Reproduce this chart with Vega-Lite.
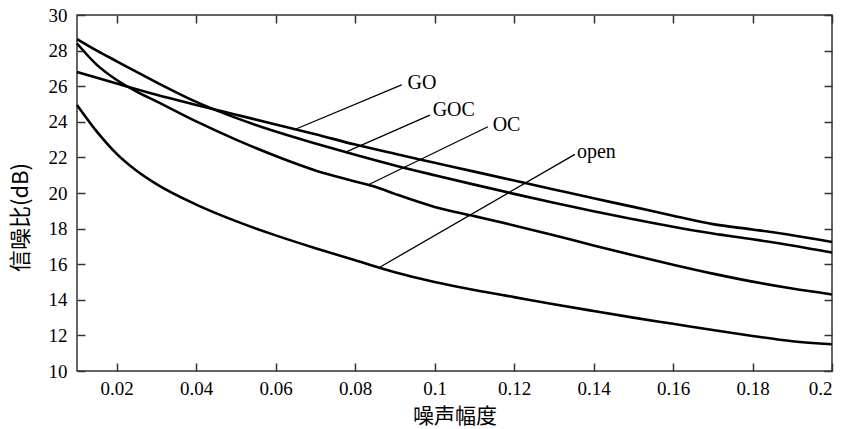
{
  "$schema": "https://vega.github.io/schema/vega-lite/v6.json",
  "width": 755,
  "height": 356,
  "autosize": "none",
  "padding": {"left": 77, "top": 15, "right": 10, "bottom": 58},
  "background": "white",
  "config": {
    "view": {"stroke": "#333", "strokeWidth": 1.5},
    "axis": {"domain": false, "grid": false, "tickColor": "#333", "tickWidth": 1.5, "labelColor": "black", "labelFont": "Liberation Serif", "labelFontSize": 19, "titleColor": "black", "titleFont": "Noto Sans CJK SC", "titleFontSize": 20, "titleFontWeight": "normal"}
  },
  "datasets": {
    "curves": [
      {"series": "GO", "x": 0.01, "y": 26.8}, {"series": "GO", "x": 0.02, "y": 26.15}, {"series": "GO", "x": 0.03, "y": 25.52}, {"series": "GO", "x": 0.04, "y": 24.95}, {"series": "GO", "x": 0.05, "y": 24.4}, {"series": "GO", "x": 0.06, "y": 23.85}, {"series": "GO", "x": 0.07, "y": 23.3}, {"series": "GO", "x": 0.08, "y": 22.72}, {"series": "GO", "x": 0.09, "y": 22.2}, {"series": "GO", "x": 0.1, "y": 21.7}, {"series": "GO", "x": 0.11, "y": 21.2}, {"series": "GO", "x": 0.12, "y": 20.7}, {"series": "GO", "x": 0.13, "y": 20.2}, {"series": "GO", "x": 0.14, "y": 19.7}, {"series": "GO", "x": 0.15, "y": 19.22}, {"series": "GO", "x": 0.16, "y": 18.72}, {"series": "GO", "x": 0.17, "y": 18.25}, {"series": "GO", "x": 0.18, "y": 17.95}, {"series": "GO", "x": 0.19, "y": 17.63}, {"series": "GO", "x": 0.2, "y": 17.25},
      {"series": "GOC", "x": 0.01, "y": 28.65}, {"series": "GOC", "x": 0.015, "y": 28.0}, {"series": "GOC", "x": 0.02, "y": 27.4}, {"series": "GOC", "x": 0.025, "y": 26.8}, {"series": "GOC", "x": 0.03, "y": 26.22}, {"series": "GOC", "x": 0.04, "y": 25.12}, {"series": "GOC", "x": 0.05, "y": 24.22}, {"series": "GOC", "x": 0.06, "y": 23.45}, {"series": "GOC", "x": 0.07, "y": 22.78}, {"series": "GOC", "x": 0.08, "y": 22.15}, {"series": "GOC", "x": 0.09, "y": 21.55}, {"series": "GOC", "x": 0.1, "y": 21.0}, {"series": "GOC", "x": 0.11, "y": 20.47}, {"series": "GOC", "x": 0.12, "y": 19.95}, {"series": "GOC", "x": 0.13, "y": 19.45}, {"series": "GOC", "x": 0.14, "y": 18.98}, {"series": "GOC", "x": 0.15, "y": 18.53}, {"series": "GOC", "x": 0.16, "y": 18.1}, {"series": "GOC", "x": 0.17, "y": 17.72}, {"series": "GOC", "x": 0.18, "y": 17.4}, {"series": "GOC", "x": 0.19, "y": 17.05}, {"series": "GOC", "x": 0.2, "y": 16.65},
      {"series": "OC", "x": 0.01, "y": 28.4}, {"series": "OC", "x": 0.015, "y": 27.2}, {"series": "OC", "x": 0.02, "y": 26.35}, {"series": "OC", "x": 0.025, "y": 25.7}, {"series": "OC", "x": 0.03, "y": 25.15}, {"series": "OC", "x": 0.04, "y": 24.02}, {"series": "OC", "x": 0.05, "y": 23.0}, {"series": "OC", "x": 0.06, "y": 22.08}, {"series": "OC", "x": 0.07, "y": 21.27}, {"series": "OC", "x": 0.08, "y": 20.65}, {"series": "OC", "x": 0.085, "y": 20.35}, {"series": "OC", "x": 0.09, "y": 19.95}, {"series": "OC", "x": 0.1, "y": 19.22}, {"series": "OC", "x": 0.11, "y": 18.7}, {"series": "OC", "x": 0.12, "y": 18.18}, {"series": "OC", "x": 0.13, "y": 17.63}, {"series": "OC", "x": 0.14, "y": 17.05}, {"series": "OC", "x": 0.15, "y": 16.5}, {"series": "OC", "x": 0.16, "y": 15.97}, {"series": "OC", "x": 0.17, "y": 15.47}, {"series": "OC", "x": 0.18, "y": 15.02}, {"series": "OC", "x": 0.19, "y": 14.63}, {"series": "OC", "x": 0.2, "y": 14.3},
      {"series": "open", "x": 0.01, "y": 24.95}, {"series": "open", "x": 0.015, "y": 23.45}, {"series": "open", "x": 0.02, "y": 22.2}, {"series": "open", "x": 0.025, "y": 21.25}, {"series": "open", "x": 0.03, "y": 20.5}, {"series": "open", "x": 0.04, "y": 19.35}, {"series": "open", "x": 0.05, "y": 18.42}, {"series": "open", "x": 0.06, "y": 17.62}, {"series": "open", "x": 0.07, "y": 16.9}, {"series": "open", "x": 0.08, "y": 16.22}, {"series": "open", "x": 0.09, "y": 15.55}, {"series": "open", "x": 0.1, "y": 15.0}, {"series": "open", "x": 0.11, "y": 14.55}, {"series": "open", "x": 0.12, "y": 14.15}, {"series": "open", "x": 0.13, "y": 13.75}, {"series": "open", "x": 0.14, "y": 13.37}, {"series": "open", "x": 0.15, "y": 13.0}, {"series": "open", "x": 0.16, "y": 12.65}, {"series": "open", "x": 0.17, "y": 12.3}, {"series": "open", "x": 0.18, "y": 11.97}, {"series": "open", "x": 0.19, "y": 11.67}, {"series": "open", "x": 0.2, "y": 11.5}
    ],
    "labels": [
      {"label": "GO", "x": 0.0645, "y": 23.54, "x2": 0.0917, "y2": 26.07, "tx": 0.0932, "ty": 26.2},
      {"label": "GOC", "x": 0.0779, "y": 22.32, "x2": 0.0988, "y2": 24.38, "tx": 0.0995, "ty": 24.68},
      {"label": "OC", "x": 0.0832, "y": 20.45, "x2": 0.1134, "y2": 23.72, "tx": 0.1146, "ty": 23.8},
      {"label": "open", "x": 0.0862, "y": 15.83, "x2": 0.1353, "y2": 22.17, "tx": 0.1358, "ty": 22.3}
    ]
  },
  "resolve": {"axis": {"x": "independent", "y": "independent"}},
  "layer": [
    {
      "data": {"name": "curves"},
      "mark": {"type": "line", "color": "black", "strokeWidth": 2.6, "interpolate": "monotone"},
      "encoding": {
        "x": {"field": "x", "type": "quantitative", "scale": {"domain": [0.01, 0.2], "nice": false, "zero": false},
              "axis": {"orient": "bottom", "values": [0.02, 0.04, 0.06, 0.08, 0.1, 0.12, 0.14, 0.16, 0.18, 0.2], "format": "~g", "tickSize": -8, "labelPadding": 16, "title": "噪声幅度", "titleFontSize": 21, "titlePadding": 7}},
        "y": {"field": "y", "type": "quantitative", "scale": {"domain": [10, 30], "nice": false, "zero": false},
              "axis": {"orient": "left", "values": [10, 12, 14, 16, 18, 20, 22, 24, 26, 28, 30], "tickSize": -8, "labelPadding": 18, "title": "信噪比(dB)", "titleFontSize": 22, "titlePadding": 16, "titleY": 202}},
        "detail": {"field": "series"}
      }
    },
    {
      "data": {"name": "labels"},
      "mark": {"type": "rule", "color": "black", "strokeWidth": 1.3},
      "encoding": {
        "x": {"field": "x", "type": "quantitative", "axis": {"orient": "top", "values": [0.02, 0.04, 0.06, 0.08, 0.1, 0.12, 0.14, 0.16, 0.18, 0.2], "tickSize": -8, "labels": false, "title": null}},
        "y": {"field": "y", "type": "quantitative", "axis": {"orient": "right", "values": [10, 12, 14, 16, 18, 20, 22, 24, 26, 28, 30], "tickSize": -8, "labels": false, "title": null}},
        "x2": {"field": "x2"},
        "y2": {"field": "y2"}
      }
    },
    {
      "data": {"name": "labels"},
      "mark": {"type": "text", "align": "left", "baseline": "middle", "font": "Liberation Serif", "fontSize": 20, "color": "black"},
      "encoding": {
        "x": {"field": "tx", "type": "quantitative", "axis": null},
        "y": {"field": "ty", "type": "quantitative", "axis": null},
        "text": {"field": "label"}
      }
    }
  ]
}
